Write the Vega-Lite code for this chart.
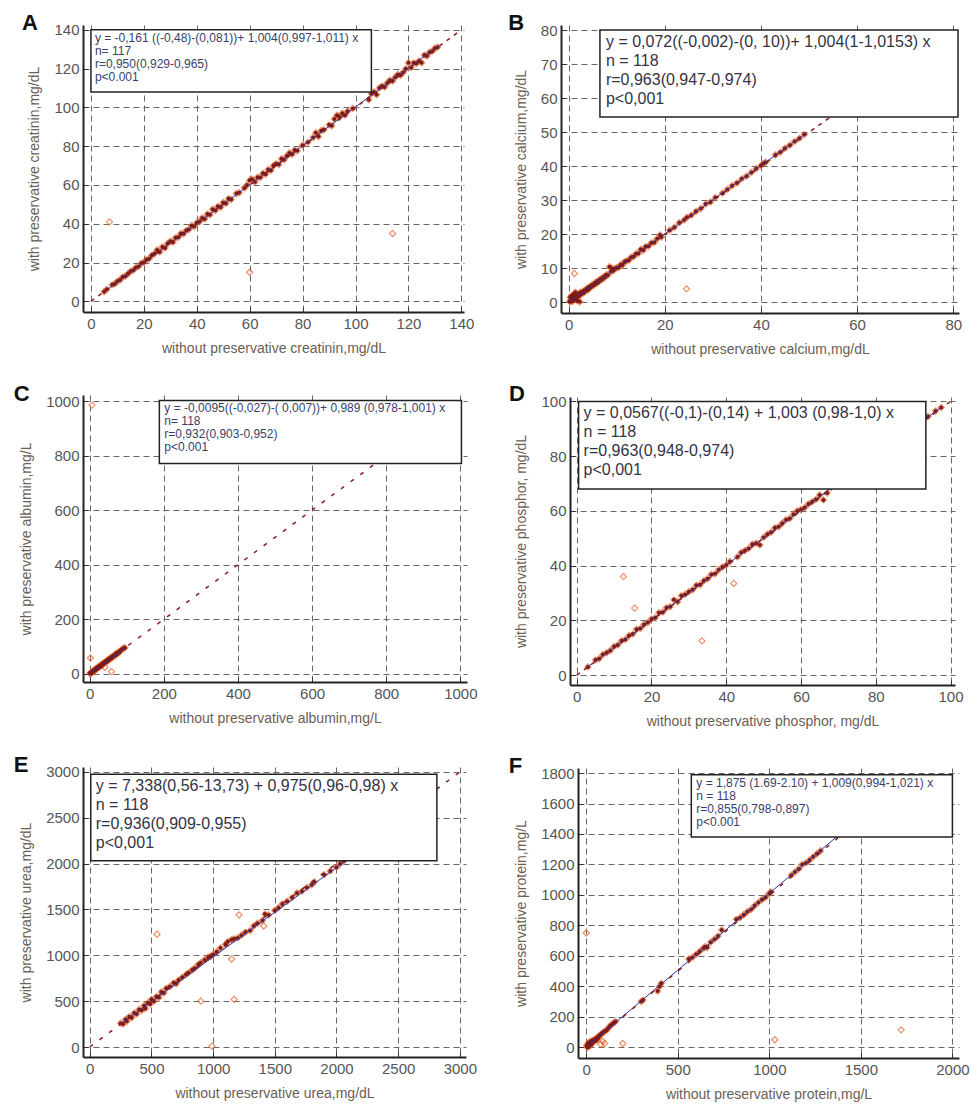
{
"$schema": "https://vega.github.io/schema/vega-lite/v6.json",
"padding": {"left": 13, "top": 11, "right": 2, "bottom": 2},
"columns": 2,
"align": "none",
"spacing": {"row": 27, "column": 30},
"config": {
 "font": "Liberation Sans",
 "view": {"stroke": null},
 "axis": {"grid": true, "gridDash": [6,4], "gridColor": "#666", "gridWidth": 1, "domainColor": "#222", "domainWidth": 2, "tickColor": "#333", "tickSize": -5, "tickWidth": 1, "labelPadding": 9, "labelFontSize": 15, "labelColor": "#555", "labelOverlap": false, "tickCount": 20, "titleFontSize": 14, "titleColor": "#6b5e55", "titleFontWeight": "normal", "format": "d"},
 "axisX": {"titlePadding": 10},
 "axisY": {"titlePadding": 12},
 "title": {"fontSize": 22, "fontWeight": "bold", "anchor": "start", "frame": "bounds", "color": "#111", "offset": -12, "dx": -6}
},
"datasets": {
 "A": [{"x":5,"y":5},{"x":6,"y":6.2},{"x":8,"y":8.5},{"x":9,"y":9},{"x":10,"y":10.3},{"x":11,"y":11},{"x":12,"y":12.5},{"x":13,"y":13},{"x":14,"y":14.2},{"x":15,"y":15.5},{"x":16,"y":16},{"x":17,"y":17.4},{"x":18,"y":18},{"x":19,"y":19.6},{"x":20,"y":20},{"x":21,"y":21.5},{"x":22,"y":22},{"x":23,"y":23.8},{"x":24,"y":24.5},{"x":25,"y":26.5},{"x":26,"y":25.5},{"x":27,"y":28},{"x":28,"y":27.5},{"x":29,"y":29.8},{"x":30,"y":31},{"x":31,"y":30.5},{"x":32,"y":32.8},{"x":33,"y":33},{"x":34,"y":35},{"x":35,"y":34.8},{"x":36,"y":36.5},{"x":37,"y":37},{"x":38,"y":39},{"x":39,"y":38.6},{"x":40,"y":40.5},{"x":41,"y":41},{"x":42,"y":43},{"x":43,"y":42.5},{"x":44,"y":45},{"x":45,"y":44.6},{"x":46,"y":47.5},{"x":47,"y":46.8},{"x":48,"y":49},{"x":49,"y":48.5},{"x":50,"y":51},{"x":51,"y":50.5},{"x":52,"y":53},{"x":53,"y":52.5},{"x":55,"y":55.6},{"x":56,"y":56},{"x":58,"y":58.5},{"x":59,"y":60},{"x":60,"y":62.5},{"x":61,"y":63},{"x":62,"y":61.5},{"x":63,"y":64},{"x":64,"y":63.8},{"x":65,"y":66},{"x":66,"y":65.5},{"x":67,"y":68},{"x":68,"y":67.5},{"x":69,"y":70},{"x":70,"y":71},{"x":71,"y":70.5},{"x":72,"y":73.5},{"x":73,"y":73},{"x":74,"y":75},{"x":75,"y":76.5},{"x":76,"y":75.8},{"x":77,"y":78},{"x":78,"y":77.6},{"x":80,"y":80.5},{"x":82,"y":82},{"x":84,"y":84.5},{"x":85,"y":87},{"x":86,"y":85},{"x":87,"y":88},{"x":88,"y":88.5},{"x":90,"y":91},{"x":91,"y":90.5},{"x":92,"y":94},{"x":93,"y":96},{"x":94,"y":95},{"x":95,"y":97},{"x":96,"y":96},{"x":97,"y":98},{"x":99,"y":99.5},{"x":105,"y":104},{"x":106,"y":107},{"x":107,"y":108},{"x":108,"y":106.5},{"x":109,"y":110},{"x":110,"y":111},{"x":111,"y":110.5},{"x":112,"y":112.6},{"x":113,"y":114},{"x":114,"y":113.6},{"x":115,"y":115.5},{"x":116,"y":117},{"x":117,"y":116.6},{"x":118,"y":118},{"x":119,"y":120},{"x":120,"y":123},{"x":121,"y":120.5},{"x":122,"y":123},{"x":123,"y":122.6},{"x":124,"y":124},{"x":125,"y":123},{"x":126,"y":127},{"x":127,"y":126.5},{"x":128,"y":128.5},{"x":129,"y":129},{"x":130,"y":130.5},{"x":131,"y":131},{"x":7,"y":41},{"x":60,"y":15},{"x":114,"y":35}],
 "Areg": [{"x":5,"y":4.9},{"x":131,"y":131.4}],
 "Aid": [{"x":0,"y":0},{"x":140,"y":140}],
 "B": [{"x":0.2,"y":0.3},{"x":0.3,"y":1.5},{"x":0.4,"y":0.2},{"x":0.5,"y":0.8},{"x":0.6,"y":2},{"x":0.7,"y":0.5},{"x":0.8,"y":1.2},{"x":0.9,"y":0.4},{"x":1,"y":1.1},{"x":1.1,"y":2.5},{"x":1.2,"y":0.9},{"x":1.3,"y":1.6},{"x":1.4,"y":3},{"x":1.5,"y":1.3},{"x":1.6,"y":2.1},{"x":1.7,"y":1.5},{"x":1.8,"y":0.5},{"x":1.9,"y":2},{"x":2,"y":2.2},{"x":2.1,"y":1.8},{"x":2.2,"y":2.6},{"x":2.3,"y":0.2},{"x":2.4,"y":2.4},{"x":2.5,"y":3},{"x":2.6,"y":2.5},{"x":2.8,"y":2.9},{"x":3,"y":3.2},{"x":3.1,"y":2.8},{"x":3.3,"y":3.5},{"x":3.5,"y":3.4},{"x":3.7,"y":3.9},{"x":3.9,"y":3.6},{"x":4,"y":4.3},{"x":4.2,"y":4},{"x":4.4,"y":4.6},{"x":4.6,"y":4.5},{"x":4.8,"y":5},{"x":5,"y":5.2},{"x":5.2,"y":5},{"x":5.5,"y":5.8},{"x":5.8,"y":5.6},{"x":6,"y":6.3},{"x":6.3,"y":6.1},{"x":6.6,"y":6.9},{"x":6.9,"y":6.7},{"x":7.2,"y":7.5},{"x":7.5,"y":7.3},{"x":7.8,"y":8.1},{"x":8.1,"y":8},{"x":8.5,"y":10.5},{"x":8.8,"y":9},{"x":9,"y":10},{"x":9.3,"y":9.4},{"x":9.6,"y":9.9},{"x":10,"y":10.2},{"x":10.4,"y":10.3},{"x":10.8,"y":11.1},{"x":11.2,"y":11},{"x":11.6,"y":11.9},{"x":12,"y":12.2},{"x":12.5,"y":12.4},{"x":13,"y":13.3},{"x":13.5,"y":13.4},{"x":14,"y":14.3},{"x":14.5,"y":14.4},{"x":15,"y":15.6},{"x":15.5,"y":15.3},{"x":16,"y":16.4},{"x":16.6,"y":16.5},{"x":17.2,"y":17.5},{"x":17.8,"y":17.6},{"x":18.4,"y":18.7},{"x":19,"y":19.8},{"x":19.3,"y":19.2},{"x":21,"y":21.2},{"x":22,"y":22.1},{"x":23,"y":23.4},{"x":24,"y":24.2},{"x":24.6,"y":25},{"x":25.5,"y":25.6},{"x":26.5,"y":26.8},{"x":27.5,"y":27.6},{"x":28.5,"y":28.9},{"x":29.5,"y":29.5},{"x":30.5,"y":30.8},{"x":32,"y":32.1},{"x":33,"y":33.2},{"x":34,"y":34.3},{"x":35,"y":35.1},{"x":36,"y":36.3},{"x":37,"y":37.1},{"x":38,"y":38.2},{"x":39,"y":39.3},{"x":40,"y":40.2},{"x":40.5,"y":40.8},{"x":41,"y":41.2},{"x":43,"y":43.3},{"x":44,"y":44.1},{"x":45,"y":45.3},{"x":46,"y":46.2},{"x":47,"y":47.3},{"x":48,"y":48.2},{"x":49,"y":49.3},{"x":1.2,"y":8.5},{"x":24.5,"y":4}],
 "Breg": [{"x":0,"y":0.07},{"x":49,"y":49.27}],
 "Bid": [{"x":0,"y":0},{"x":80,"y":80}],
 "C": [{"x":1,"y":2},{"x":2,"y":1},{"x":3,"y":4},{"x":4,"y":3},{"x":5,"y":6},{"x":6,"y":5},{"x":7,"y":8},{"x":8,"y":9},{"x":9,"y":8},{"x":10,"y":11},{"x":11,"y":10},{"x":12,"y":13},{"x":13,"y":12},{"x":14,"y":15},{"x":15,"y":14},{"x":16,"y":17},{"x":17,"y":18},{"x":18,"y":17},{"x":19,"y":20},{"x":20,"y":22},{"x":21,"y":20},{"x":22,"y":23},{"x":24,"y":25},{"x":25,"y":24},{"x":26,"y":28},{"x":27,"y":26},{"x":28,"y":30},{"x":30,"y":31},{"x":31,"y":29},{"x":32,"y":34},{"x":34,"y":33},{"x":35,"y":37},{"x":36,"y":35},{"x":38,"y":40},{"x":40,"y":39},{"x":42,"y":44},{"x":44,"y":43},{"x":45,"y":47},{"x":47,"y":46},{"x":48,"y":50},{"x":50,"y":49},{"x":52,"y":54},{"x":54,"y":53},{"x":55,"y":57},{"x":57,"y":56},{"x":59,"y":61},{"x":61,"y":60},{"x":63,"y":65},{"x":65,"y":64},{"x":68,"y":70},{"x":70,"y":68},{"x":72,"y":75},{"x":75,"y":74},{"x":78,"y":80},{"x":80,"y":79},{"x":84,"y":86},{"x":88,"y":90},{"x":92,"y":94},{"x":95,"y":96},{"x":6,"y":985},{"x":2,"y":58},{"x":59,"y":8},{"x":41,"y":24}],
 "Creg": [{"x":0,"y":0},{"x":95,"y":93.9}],
 "Cid": [{"x":0,"y":0},{"x":1000,"y":1000}],
 "D": [{"x":3,"y":3},{"x":5,"y":5.5},{"x":6,"y":6},{"x":7,"y":7.5},{"x":8,"y":8.2},{"x":9,"y":9},{"x":10,"y":10.5},{"x":11,"y":11},{"x":12,"y":12.6},{"x":13,"y":13},{"x":14,"y":14.5},{"x":15,"y":15},{"x":16,"y":16.8},{"x":17,"y":17},{"x":18,"y":18.5},{"x":19,"y":19.2},{"x":20,"y":20.5},{"x":21,"y":21},{"x":22,"y":22.8},{"x":23,"y":23},{"x":24,"y":24.6},{"x":25,"y":25},{"x":26,"y":27.5},{"x":27,"y":26.8},{"x":28,"y":29},{"x":29,"y":29.5},{"x":30,"y":30.5},{"x":31,"y":31.2},{"x":32,"y":32.8},{"x":33,"y":33},{"x":34,"y":34.5},{"x":35,"y":35.2},{"x":36,"y":36.8},{"x":37,"y":37},{"x":38,"y":38.5},{"x":39,"y":39.5},{"x":40,"y":40.2},{"x":41,"y":41.5},{"x":43,"y":43.2},{"x":44,"y":44.8},{"x":45,"y":45.5},{"x":46,"y":46.3},{"x":47,"y":47.8},{"x":48,"y":48.2},{"x":49,"y":47.5},{"x":50,"y":50.3},{"x":51,"y":51.5},{"x":52,"y":52.2},{"x":53,"y":53.8},{"x":54,"y":54.2},{"x":55,"y":55.5},{"x":56,"y":56.8},{"x":57,"y":57.2},{"x":58,"y":58.8},{"x":59,"y":60},{"x":60,"y":60.5},{"x":61,"y":61.2},{"x":62,"y":62.5},{"x":63,"y":63.3},{"x":64,"y":64.2},{"x":65,"y":65.8},{"x":66,"y":64},{"x":67,"y":66.5},{"x":68,"y":68.5},{"x":69,"y":69.3},{"x":72,"y":72.5},{"x":75,"y":75.3},{"x":80,"y":80.2},{"x":85,"y":85.5},{"x":90,"y":90.3},{"x":94,"y":94.5},{"x":96,"y":96.5},{"x":97.5,"y":97.8},{"x":12.5,"y":36},{"x":15.5,"y":24.5},{"x":33.5,"y":12.5},{"x":42,"y":33.5}],
 "Dreg": [{"x":3,"y":3.07},{"x":97.5,"y":97.85}],
 "Did": [{"x":0,"y":0},{"x":100,"y":100}],
 "E": [{"x":250,"y":260},{"x":270,"y":250},{"x":290,"y":300},{"x":300,"y":280},{"x":320,"y":330},{"x":340,"y":320},{"x":360,"y":370},{"x":380,"y":360},{"x":400,"y":410},{"x":420,"y":400},{"x":440,"y":450},{"x":450,"y":420},{"x":470,"y":480},{"x":490,"y":470},{"x":500,"y":520},{"x":520,"y":500},{"x":540,"y":550},{"x":560,"y":540},{"x":580,"y":600},{"x":600,"y":590},{"x":620,"y":640},{"x":650,"y":660},{"x":680,"y":700},{"x":700,"y":690},{"x":720,"y":730},{"x":750,"y":760},{"x":780,"y":790},{"x":800,"y":810},{"x":830,"y":840},{"x":850,"y":860},{"x":880,"y":900},{"x":900,"y":920},{"x":930,"y":950},{"x":960,"y":980},{"x":980,"y":990},{"x":1000,"y":1010},{"x":1030,"y":1040},{"x":1060,"y":1080},{"x":1100,"y":1120},{"x":1120,"y":1150},{"x":1150,"y":1170},{"x":1170,"y":1180},{"x":1200,"y":1190},{"x":1230,"y":1220},{"x":1260,"y":1250},{"x":1300,"y":1270},{"x":1330,"y":1320},{"x":1360,"y":1350},{"x":1400,"y":1380},{"x":1420,"y":1450},{"x":1450,"y":1440},{"x":1500,"y":1490},{"x":1530,"y":1520},{"x":1560,"y":1560},{"x":1600,"y":1590},{"x":1640,"y":1630},{"x":1680,"y":1680},{"x":1720,"y":1700},{"x":1760,"y":1740},{"x":1800,"y":1770},{"x":1820,"y":1800},{"x":1900,"y":1880},{"x":1950,"y":1920},{"x":2000,"y":1960},{"x":2030,"y":2000},{"x":2060,"y":2030},{"x":545,"y":1230},{"x":1210,"y":1440},{"x":1150,"y":960},{"x":900,"y":500},{"x":1170,"y":520},{"x":990,"y":10},{"x":1410,"y":1320}],
 "Ereg": [{"x":250,"y":251},{"x":2100,"y":2055}],
 "Eid": [{"x":0,"y":0},{"x":3000,"y":3000}],
 "F": [{"x":2,"y":10},{"x":5,"y":3},{"x":8,"y":20},{"x":10,"y":0},{"x":12,"y":30},{"x":15,"y":15},{"x":18,"y":8},{"x":20,"y":25},{"x":25,"y":40},{"x":28,"y":18},{"x":30,"y":30},{"x":35,"y":45},{"x":40,"y":35},{"x":45,"y":50},{"x":50,"y":55},{"x":55,"y":45},{"x":60,"y":65},{"x":65,"y":60},{"x":70,"y":75},{"x":75,"y":80},{"x":85,"y":90},{"x":90,"y":95},{"x":100,"y":105},{"x":110,"y":110},{"x":120,"y":125},{"x":130,"y":140},{"x":140,"y":150},{"x":150,"y":160},{"x":160,"y":170},{"x":300,"y":300},{"x":310,"y":310},{"x":390,"y":370},{"x":400,"y":400},{"x":410,"y":420},{"x":560,"y":580},{"x":580,"y":590},{"x":600,"y":610},{"x":620,"y":630},{"x":640,"y":650},{"x":650,"y":660},{"x":660,"y":655},{"x":680,"y":690},{"x":700,"y":710},{"x":720,"y":730},{"x":740,"y":770},{"x":820,"y":840},{"x":840,"y":850},{"x":860,"y":870},{"x":880,"y":890},{"x":900,"y":905},{"x":920,"y":930},{"x":940,"y":950},{"x":960,"y":970},{"x":980,"y":985},{"x":1000,"y":1010},{"x":1010,"y":1020},{"x":1120,"y":1130},{"x":1140,"y":1150},{"x":1160,"y":1170},{"x":1180,"y":1200},{"x":1200,"y":1210},{"x":1220,"y":1230},{"x":1240,"y":1250},{"x":1260,"y":1270},{"x":1280,"y":1290},{"x":0,"y":750},{"x":1030,"y":50},{"x":1720,"y":115},{"x":200,"y":25},{"x":80,"y":20},{"x":100,"y":25},{"x":90,"y":40}],
 "Freg": [{"x":0,"y":1.9},{"x":1380,"y":1394}],
 "Fid": [{"x":0,"y":0},{"x":1800,"y":1800}]
},
"concat": [
  {"width": 381, "height": 287, "title": {"text": "A"},
   "layer": [
    {"data": {"name": "A"}, "mark": {"type": "point", "shape": "diamond", "filled": false, "size": 38, "strokeWidth": 1.2, "color": "#e5622b"},
     "encoding": {"x": {"field": "x", "type": "quantitative", "scale": {"domain": [-3, 141], "nice": false, "zero": false}, "axis": {"values": [0,20,40,60,80,100,120,140], "tickCount": 20, "labelOverlap": false, "title": "without preservative creatinin,mg/dL"}},
                  "y": {"field": "y", "type": "quantitative", "scale": {"domain": [-5.5, 142.5], "nice": false, "zero": false}, "axis": {"values": [0,20,40,60,80,100,120,140], "tickCount": 20, "labelOverlap": false, "title": "with preservative creatinin,mg/dL"}}}},
    {"data": {"name": "A"}, "transform": [{"filter": "abs(datum.y - datum.x) < 8"}], "mark": {"type": "circle", "size": 16, "color": "#7a1a12", "opacity": 1}, "encoding": {"x": {"field": "x", "type": "quantitative"}, "y": {"field": "y", "type": "quantitative"}}},
    {"data": {"name": "Areg"}, "mark": {"type": "line", "color": "#2a35b0", "strokeWidth": 1}, "encoding": {"x": {"field": "x", "type": "quantitative"}, "y": {"field": "y", "type": "quantitative"}}},
    {"data": {"name": "Aid"}, "mark": {"type": "line", "color": "#8b1c1c", "strokeWidth": 1.5, "strokeDash": [4,5]}, "encoding": {"x": {"field": "x", "type": "quantitative"}, "y": {"field": "y", "type": "quantitative"}}},
    {"data": {"values": [{}]}, "mark": {"type": "rect", "fill": "white", "stroke": "#222", "strokeWidth": 1.5}, "encoding": {"x": {"datum": 0}, "x2": {"datum": 106}, "y": {"datum": 140}, "y2": {"datum": 108}}},
    {"data": {"values": [{}]}, "mark": {"type": "text", "text": ["y = -0,161 ((-0,48)-(0,081))+ 1,004(0,997-1,011) x", "n= 117", "r=0,950(0,929-0,965)", "p<0.001"], "align": "left", "baseline": "top", "dx": 4, "dy": 3, "fontSize": 12, "lineHeight": 13, "color": "#3a3f6a"}, "encoding": {"x": {"datum": 0}, "y": {"datum": 140}}}
   ]},
  {"width": 398, "height": 288, "title": {"text": "B"},
   "layer": [
    {"data": {"name": "B"}, "mark": {"type": "point", "shape": "diamond", "filled": false, "size": 38, "strokeWidth": 1.2, "color": "#e5622b"},
     "encoding": {"x": {"field": "x", "type": "quantitative", "scale": {"domain": [-1.6, 81.2], "nice": false, "zero": false}, "axis": {"values": [0,20,40,60,80], "tickCount": 20, "labelOverlap": false, "title": "without preservative calcium,mg/dL"}},
                  "y": {"field": "y", "type": "quantitative", "scale": {"domain": [-3.1, 81.5], "nice": false, "zero": false}, "axis": {"values": [0,10,20,30,40,50,60,70,80], "tickCount": 20, "labelOverlap": false, "title": "with preservative calcium,mg/dL"}}}},
    {"data": {"name": "B"}, "transform": [{"filter": "abs(datum.y - datum.x) < 3"}], "mark": {"type": "circle", "size": 16, "color": "#7a1a12", "opacity": 1}, "encoding": {"x": {"field": "x", "type": "quantitative"}, "y": {"field": "y", "type": "quantitative"}}},
    {"data": {"name": "Breg"}, "mark": {"type": "line", "color": "#2a35b0", "strokeWidth": 1}, "encoding": {"x": {"field": "x", "type": "quantitative"}, "y": {"field": "y", "type": "quantitative"}}},
    {"data": {"name": "Bid"}, "mark": {"type": "line", "color": "#8b1c1c", "strokeWidth": 1.5, "strokeDash": [4,5]}, "encoding": {"x": {"field": "x", "type": "quantitative"}, "y": {"field": "y", "type": "quantitative"}}},
    {"data": {"values": [{}]}, "mark": {"type": "rect", "fill": "white", "stroke": "#222", "strokeWidth": 1.5}, "encoding": {"x": {"datum": 6.5}, "x2": {"datum": 81}, "y": {"datum": 80}, "y2": {"datum": 54.5}}},
    {"data": {"values": [{}]}, "mark": {"type": "text", "text": ["y = 0,072((-0,002)-(0, 10))+ 1,004(1-1,0153) x", "n = 118", "r=0,963(0,947-0,974)", "p<0,001"], "align": "left", "baseline": "top", "dx": 6, "dy": 4, "fontSize": 16, "lineHeight": 19, "color": "#333344"}, "encoding": {"x": {"datum": 6.5}, "y": {"datum": 80}}}
   ]},
  {"width": 384, "height": 287, "title": {"text": "C"},
   "layer": [
    {"data": {"name": "C"}, "mark": {"type": "point", "shape": "diamond", "filled": false, "size": 38, "strokeWidth": 1.2, "color": "#e5622b"},
     "encoding": {"x": {"field": "x", "type": "quantitative", "scale": {"domain": [-18, 1018], "nice": false, "zero": false}, "axis": {"values": [0,200,400,600,800,1000], "tickCount": 20, "labelOverlap": false, "title": "without preservative albumin,mg/L"}},
                  "y": {"field": "y", "type": "quantitative", "scale": {"domain": [-30, 1022], "nice": false, "zero": false}, "axis": {"values": [0,200,400,600,800,1000], "tickCount": 20, "labelOverlap": false, "title": "with preservative albumin,mg/L"}}}},
    {"data": {"name": "C"}, "transform": [{"filter": "abs(datum.y - datum.x) < 15"}], "mark": {"type": "circle", "size": 16, "color": "#7a1a12", "opacity": 1}, "encoding": {"x": {"field": "x", "type": "quantitative"}, "y": {"field": "y", "type": "quantitative"}}},
    {"data": {"name": "Creg"}, "mark": {"type": "line", "color": "#2a35b0", "strokeWidth": 1}, "encoding": {"x": {"field": "x", "type": "quantitative"}, "y": {"field": "y", "type": "quantitative"}}},
    {"data": {"name": "Cid"}, "mark": {"type": "line", "color": "#8b1c1c", "strokeWidth": 1.5, "strokeDash": [4,8]}, "encoding": {"x": {"field": "x", "type": "quantitative"}, "y": {"field": "y", "type": "quantitative"}}},
    {"data": {"values": [{}]}, "mark": {"type": "rect", "fill": "white", "stroke": "#222", "strokeWidth": 1.5}, "encoding": {"x": {"datum": 188}, "x2": {"datum": 1003}, "y": {"datum": 1002}, "y2": {"datum": 771}}},
    {"data": {"values": [{}]}, "mark": {"type": "text", "text": ["y = -0,0095((-0,027)-( 0,007))+ 0,989 (0,978-1,001) x", "n= 118", "r=0,932(0,903-0,952)", "p<0.001"], "align": "left", "baseline": "top", "dx": 5, "dy": 3, "fontSize": 12, "lineHeight": 13, "color": "#3a3f6a"}, "encoding": {"x": {"datum": 188}, "y": {"datum": 1002}}}
   ]},
  {"width": 385, "height": 288, "title": {"text": "D"},
   "layer": [
    {"data": {"name": "D"}, "mark": {"type": "point", "shape": "diamond", "filled": false, "size": 38, "strokeWidth": 1.2, "color": "#e5622b"},
     "encoding": {"x": {"field": "x", "type": "quantitative", "scale": {"domain": [-1.8, 101.2], "nice": false, "zero": false}, "axis": {"values": [0,20,40,60,80,100], "tickCount": 20, "labelOverlap": false, "title": "without preservative phosphor, mg/dL"}},
                  "y": {"field": "y", "type": "quantitative", "scale": {"domain": [-3.6, 101.6], "nice": false, "zero": false}, "axis": {"values": [0,20,40,60,80,100], "tickCount": 20, "labelOverlap": false, "title": "with preservative phosphor, mg/dL"}}}},
    {"data": {"name": "D"}, "transform": [{"filter": "abs(datum.y - datum.x) < 5"}], "mark": {"type": "circle", "size": 16, "color": "#7a1a12", "opacity": 1}, "encoding": {"x": {"field": "x", "type": "quantitative"}, "y": {"field": "y", "type": "quantitative"}}},
    {"data": {"name": "Dreg"}, "mark": {"type": "line", "color": "#2a35b0", "strokeWidth": 1}, "encoding": {"x": {"field": "x", "type": "quantitative"}, "y": {"field": "y", "type": "quantitative"}}},
    {"data": {"name": "Did"}, "mark": {"type": "line", "color": "#8b1c1c", "strokeWidth": 1.5, "strokeDash": [4,5]}, "encoding": {"x": {"field": "x", "type": "quantitative"}, "y": {"field": "y", "type": "quantitative"}}},
    {"data": {"values": [{}]}, "mark": {"type": "rect", "fill": "white", "stroke": "#222", "strokeWidth": 1.5}, "encoding": {"x": {"datum": 0.5}, "x2": {"datum": 93.4}, "y": {"datum": 100}, "y2": {"datum": 68}}},
    {"data": {"values": [{}]}, "mark": {"type": "text", "text": ["y = 0,0567((-0,1)-(0,14) + 1,003 (0,98-1,0) x", "n = 118", "r=0,963(0,948-0,974)", "p<0,001"], "align": "left", "baseline": "top", "dx": 5, "dy": 4, "fontSize": 16, "lineHeight": 19, "color": "#333344"}, "encoding": {"x": {"datum": 0.5}, "y": {"datum": 100}}}
   ]},
  {"width": 383, "height": 290, "title": {"text": "E"},
   "layer": [
    {"data": {"name": "E"}, "mark": {"type": "point", "shape": "diamond", "filled": false, "size": 38, "strokeWidth": 1.2, "color": "#e5622b"},
     "encoding": {"x": {"field": "x", "type": "quantitative", "scale": {"domain": [-55, 3050], "nice": false, "zero": false}, "axis": {"values": [0,500,1000,1500,2000,2500,3000], "tickCount": 20, "labelOverlap": false, "title": "without preservative urea,mg/dL"}},
                  "y": {"field": "y", "type": "quantitative", "scale": {"domain": [-109, 3054], "nice": false, "zero": false}, "axis": {"values": [0,500,1000,1500,2000,2500,3000], "tickCount": 20, "labelOverlap": false, "title": "with preservative  urea,mg/dL"}}}},
    {"data": {"name": "E"}, "transform": [{"filter": "abs(datum.y - datum.x) < 60"}], "mark": {"type": "circle", "size": 16, "color": "#7a1a12", "opacity": 1}, "encoding": {"x": {"field": "x", "type": "quantitative"}, "y": {"field": "y", "type": "quantitative"}}},
    {"data": {"name": "Ereg"}, "mark": {"type": "line", "color": "#2a35b0", "strokeWidth": 1}, "encoding": {"x": {"field": "x", "type": "quantitative"}, "y": {"field": "y", "type": "quantitative"}}},
    {"data": {"name": "Eid"}, "mark": {"type": "line", "color": "#8b1c1c", "strokeWidth": 1.5, "strokeDash": [4,8]}, "encoding": {"x": {"field": "x", "type": "quantitative"}, "y": {"field": "y", "type": "quantitative"}}},
    {"data": {"values": [{}]}, "mark": {"type": "rect", "fill": "white", "stroke": "#222", "strokeWidth": 1.5}, "encoding": {"x": {"datum": 8}, "x2": {"datum": 2814}, "y": {"datum": 2975}, "y2": {"datum": 2031}}},
    {"data": {"values": [{}]}, "mark": {"type": "text", "text": ["y = 7,338(0,56-13,73) +  0,975(0,96-0,98) x", "n = 118", "r=0,936(0,909-0,955)", "p<0,001"], "align": "left", "baseline": "top", "dx": 5, "dy": 4, "fontSize": 16, "lineHeight": 19, "color": "#333344"}, "encoding": {"x": {"datum": 8}, "y": {"datum": 2975}}}
   ]},
  {"width": 381, "height": 290, "title": {"text": "F"},
   "layer": [
    {"data": {"name": "F"}, "mark": {"type": "point", "shape": "diamond", "filled": false, "size": 38, "strokeWidth": 1.2, "color": "#e5622b"},
     "encoding": {"x": {"field": "x", "type": "quantitative", "scale": {"domain": [-45, 2036], "nice": false, "zero": false}, "axis": {"values": [0,500,1000,1500,2000], "tickCount": 20, "labelOverlap": false, "title": "without preservative protein,mg/L"}},
                  "y": {"field": "y", "type": "quantitative", "scale": {"domain": [-70, 1833], "nice": false, "zero": false}, "axis": {"values": [0,200,400,600,800,1000,1200,1400,1600,1800], "tickCount": 20, "labelOverlap": false, "title": "with preservative protein,mg/L"}}}},
    {"data": {"name": "F"}, "transform": [{"filter": "abs(datum.y - datum.x) < 35"}], "mark": {"type": "circle", "size": 16, "color": "#7a1a12", "opacity": 1}, "encoding": {"x": {"field": "x", "type": "quantitative"}, "y": {"field": "y", "type": "quantitative"}}},
    {"data": {"name": "Freg"}, "mark": {"type": "line", "color": "#2a35b0", "strokeWidth": 1}, "encoding": {"x": {"field": "x", "type": "quantitative"}, "y": {"field": "y", "type": "quantitative"}}},
    {"data": {"name": "Fid"}, "mark": {"type": "line", "color": "#8b1c1c", "strokeWidth": 1.5, "strokeDash": [4,8]}, "encoding": {"x": {"field": "x", "type": "quantitative"}, "y": {"field": "y", "type": "quantitative"}}},
    {"data": {"values": [{}]}, "mark": {"type": "rect", "fill": "white", "stroke": "#222", "strokeWidth": 1.5}, "encoding": {"x": {"datum": 574}, "x2": {"datum": 2000}, "y": {"datum": 1789}, "y2": {"datum": 1380}}},
    {"data": {"values": [{}]}, "mark": {"type": "text", "text": ["y = 1,875 (1.69-2.10) +  1,009(0,994-1,021)  x", "n = 118", "r=0,855(0,798-0,897)", "p<0.001"], "align": "left", "baseline": "top", "dx": 5, "dy": 3, "fontSize": 12, "lineHeight": 13, "color": "#3a3f6a"}, "encoding": {"x": {"datum": 574}, "y": {"datum": 1789}}}
   ]}
]
}
